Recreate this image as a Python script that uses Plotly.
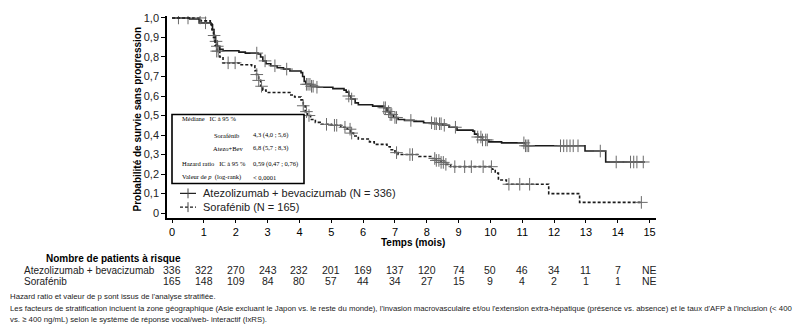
import numpy as np
import plotly.graph_objects as go

# ---- Kaplan-Meier step data (months, survival probability after each event) ----
atezo_t = [0, 0.55, 0.85, 1.22, 1.27, 1.32, 1.36, 1.42, 1.5, 1.6, 2.1, 2.3, 2.7, 2.78, 2.85,
           2.95, 3.1, 3.3, 3.5, 3.7, 4.05, 4.1, 4.15, 4.2, 4.35, 4.55, 5.05, 5.4, 5.47, 5.55,
           5.62, 5.75, 5.85, 6.3, 6.65, 6.75, 6.85, 6.95, 7.1, 7.3, 7.6, 7.9, 8.2, 8.5, 8.7,
           8.95, 9.45, 9.5, 9.6, 9.75, 9.95, 10.35, 11.1, 12.97, 13.62]
atezo_s = [1.0, 0.995, 0.975, 0.965, 0.94, 0.91, 0.88, 0.855, 0.84, 0.832, 0.825, 0.82, 0.815,
           0.80, 0.78, 0.765, 0.755, 0.745, 0.738, 0.728, 0.72, 0.70, 0.675, 0.66, 0.65, 0.645,
           0.638, 0.63, 0.62, 0.60, 0.585, 0.565, 0.555, 0.548, 0.54, 0.52, 0.505, 0.49, 0.48,
           0.475, 0.47, 0.463, 0.458, 0.45, 0.44, 0.425, 0.42, 0.405, 0.39, 0.375, 0.365, 0.36,
           0.345, 0.318, 0.262]
atezo_end = 14.85
atezo_censor = [0.2, 0.5, 1.05, 1.32, 1.38, 1.42, 2.66, 2.92, 3.23, 3.6, 4.22, 4.27, 4.33,
                4.38, 4.43, 4.55, 5.55, 5.64, 6.65, 6.7, 6.8, 6.85, 6.9, 7.0, 7.05, 7.5, 8.15,
                8.25, 8.3, 8.4, 8.45, 8.55, 8.9, 9.6, 9.7, 9.75, 9.85, 9.9, 11.05, 11.1, 11.15,
                11.2, 12.2, 12.3, 12.4, 12.5, 12.6, 12.75, 13.45, 13.95, 14.4, 14.5, 14.6, 14.8]

sora_t = [0, 0.9, 1.2, 1.25, 1.3, 1.35, 1.4, 1.5, 1.6, 2.1, 2.5, 2.6, 2.65, 2.72, 2.78, 2.85,
          2.95, 3.7, 3.85, 4.05, 4.12, 4.18, 4.25, 4.35, 4.5, 4.65, 5.0, 5.3, 5.5, 5.6, 5.7,
          5.85, 6.2, 6.35, 6.75, 6.85, 7.0, 7.1, 7.75, 8.15, 8.3, 8.45, 8.6, 8.75, 10.05,
          10.15, 10.25, 10.5, 11.83, 12.8]
sora_s = [1.0, 0.985, 0.97, 0.94, 0.90, 0.86, 0.83, 0.80, 0.77, 0.76, 0.755, 0.73, 0.71, 0.68,
          0.65, 0.63, 0.618, 0.605, 0.595, 0.58, 0.55, 0.52, 0.50, 0.48, 0.465, 0.455, 0.45,
          0.44, 0.43, 0.41, 0.395, 0.38, 0.365, 0.352, 0.34, 0.325, 0.31, 0.30, 0.29, 0.28,
          0.27, 0.26, 0.25, 0.238, 0.225, 0.205, 0.17, 0.148, 0.10, 0.055]
sora_end = 14.74
sora_censor = [0.88, 1.4, 1.45, 1.76, 1.98, 2.66, 2.72, 2.81, 4.12, 4.22, 4.3, 4.85, 5.1, 5.17,
               5.43, 5.59, 5.64, 7.05, 7.47, 7.55, 8.25, 8.3, 8.38, 8.45, 8.52, 8.6, 8.88, 9.19,
               9.4, 9.77, 10.03, 10.58, 10.92, 11.23, 14.74]

# ---- Patients at risk ----
risk_months = list(range(16))
risk_atezo = ["336", "322", "270", "243", "232", "201", "169", "137", "120", "74", "50", "46",
              "34", "11", "7", "NE"]
risk_sora = ["165", "148", "109", "84", "80", "57", "44", "34", "27", "15", "9", "4", "2",
             "1", "1", "NE"]

y_ticks = [0, 0.1, 0.2, 0.3, 0.4, 0.5, 0.6, 0.7, 0.8, 0.9, 1.0]
y_ticktext = ["0", "0,1", "0,2", "0,3", "0,4", "0,5", "0,6", "0,7", "0,8", "0,9", "1,0"]

# ---- Geometry of the plotting area (pixels) ----
W, H = 800, 329
L, R, T, B = 167, 144, 13, 111
PW, PH = W - L - R, H - T - B


def px(x):
    return (x - L) / PW


def py(y):
    return (H - B - y) / PH


def step_at(times, surv, t):
    i = np.searchsorted(np.asarray(times), t, side="right") - 1
    return surv[i]


ARIAL = "Liberation Sans, Arial, sans-serif"
SERIF = "Liberation Serif, Times New Roman, serif"
INK = "#1b1b1b"

fig = go.Figure()

for times, surv, end, cens, dash in [
    (atezo_t, atezo_s, atezo_end, atezo_censor, "solid"),
    (sora_t, sora_s, sora_end, sora_censor, "3px,2px"),
]:
    fig.add_trace(go.Scatter(
        x=list(times) + [end], y=list(surv) + [surv[-1]],
        mode="lines", line=dict(shape="hv", color=INK, width=1.6, dash=dash),
        showlegend=False, hoverinfo="skip"))
    fig.add_trace(go.Scatter(
        x=cens, y=[step_at(times, surv, c) for c in cens],
        mode="markers",
        marker=dict(symbol="cross-thin", size=9, line=dict(width=1, color="#6a6a6a")),
        showlegend=False, hoverinfo="skip"))

shapes = []
annotations = []

# Summary statistics box
shapes.append(dict(type="rect", xref="paper", yref="paper",
                   x0=px(172), x1=px(304), y0=py(183), y1=py(113),
                   line=dict(color="black", width=1.6), fillcolor="white", layer="above"))
box_rows = [
    (180, 117.5, "Médiane   IC à 95 %", None),
    (212, 134, "Sorafénib", "4,3 (4,0 ; 5,6)"),
    (211, 147, "Atezo+Bev", "6,8 (5,7 ; 8,3)"),
    (180, 163, "Hazard ratio   IC à 95 %", "0,59 (0,47 ; 0,76)"),
    (180, 176.5, "Valeur de <i>p</i>  (log-rank)", "< 0,0001"),
]
for x, y, label, value in box_rows:
    annotations.append(dict(x=px(x), y=py(y), xref="paper", yref="paper", text=label,
                            showarrow=False, xanchor="left", yanchor="middle",
                            font=dict(family=SERIF, size=6.5, color="black")))
    if value:
        annotations.append(dict(x=px(251), y=py(y), xref="paper", yref="paper", text=value,
                                showarrow=False, xanchor="left", yanchor="middle",
                                font=dict(family=SERIF, size=6.5, color="black")))

# Legend drawn inside the plotting area
legend_rows = [(193, "solid", "Atezolizumab + bevacizumab (N = 336)"),
               (207, "3px,2px", "Sorafénib (N = 165)")]
for y, dash, label in legend_rows:
    shapes.append(dict(type="line", xref="paper", yref="paper", x0=px(180), x1=px(196),
                       y0=py(y), y1=py(y), line=dict(color=INK, width=1.2, dash=dash)))
    shapes.append(dict(type="line", xref="paper", yref="paper", x0=px(188), x1=px(188),
                       y0=py(y - 5), y1=py(y + 5), line=dict(color="#444", width=1)))
    annotations.append(dict(x=px(201), y=py(y), xref="paper", yref="paper", text=label,
                            showarrow=False, xanchor="left", yanchor="middle",
                            font=dict(family=ARIAL, size=11, color="#222")))

# Axis titles
annotations.append(dict(x=px(137), y=py(118), xref="paper", yref="paper",
                        text="<b>Probabilité de survie sans progression</b>", textangle=-90,
                        showarrow=False, xanchor="center", yanchor="middle",
                        font=dict(family=ARIAL, size=10, color="black")))
annotations.append(dict(x=px(413), y=py(243), xref="paper", yref="paper",
                        text="<b>Temps (mois)</b>", showarrow=False,
                        xanchor="center", yanchor="middle",
                        font=dict(family=ARIAL, size=10, color="black")))

# Patients at risk table
annotations.append(dict(x=px(44), y=py(259), xref="paper", yref="paper",
                        text="<b>Nombre de patients à risque</b>", showarrow=False,
                        xanchor="left", yanchor="middle",
                        font=dict(family=ARIAL, size=10, color="black")))
for y, label, counts in [(271, "Atezolizumab + bevacizumab", risk_atezo),
                         (282, "Sorafénib", risk_sora)]:
    annotations.append(dict(x=px(22), y=py(y), xref="paper", yref="paper", text=label,
                            showarrow=False, xanchor="left", yanchor="middle",
                            font=dict(family=ARIAL, size=10, color="#222")))
    for m, c in zip(risk_months, counts):
        annotations.append(dict(x=m, y=py(y), xref="x", yref="paper", text=c,
                                showarrow=False, xanchor="center", yanchor="middle",
                                font=dict(family=ARIAL, size=10.5, color="#222")))

# Footnotes
notes = [
    (298, "Hazard ratio et valeur de p sont issus de l'analyse stratifiée."),
    (310, "Les facteurs de stratification incluent la zone géographique (Asie excluant le Japon "
          "vs. le reste du monde), l'invasion macrovasculaire et/ou l'extension extra-hépatique "
          "(présence vs. absence) et le taux d'AFP à l'inclusion (< 400"),
    (321, "vs. ≥ 400 ng/mL) selon le système de réponse vocal/web- interactif (IxRS)."),
]
for y, text in notes:
    annotations.append(dict(x=px(8), y=py(y), xref="paper", yref="paper", text=text,
                            showarrow=False, xanchor="left", yanchor="middle",
                            font=dict(family=ARIAL, size=7.8, color="#222")))

fig.update_layout(
    width=W, height=H,
    margin=dict(l=L, r=R, t=T, b=B),
    paper_bgcolor="white", plot_bgcolor="white",
    showlegend=False,
    shapes=shapes, annotations=annotations,
    xaxis=dict(range=[-0.16, 15.2], tickvals=list(range(16)), ticks="outside", ticklen=3,
               tickwidth=1, tickcolor="black", showline=True, linecolor="black", linewidth=1.5,
               showgrid=False, zeroline=False,
               tickfont=dict(family=ARIAL, size=11, color="black")),
    yaxis=dict(range=[-0.025, 1.01], tickvals=y_ticks, ticktext=y_ticktext, ticks="outside",
               ticklen=4, tickwidth=1, tickcolor="black", showline=True, linecolor="black",
               linewidth=1.5, showgrid=False, zeroline=False,
               tickfont=dict(family=ARIAL, size=11, color="#222")),
)

fig.write_html("out.html")
